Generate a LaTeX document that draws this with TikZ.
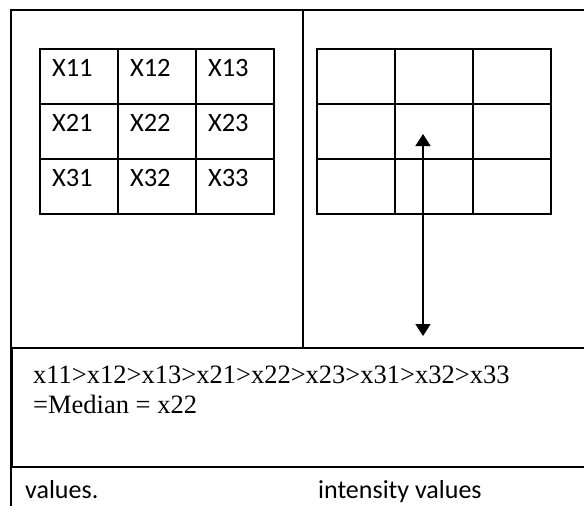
\documentclass[tikz,border=0pt]{standalone}
\usepackage{fontspec}
\setmainfont{Liberation Serif}
\newfontfamily\calibrifont{Carlito}
\usepackage{tikz}
\usetikzlibrary{positioning, arrows.meta}

\begin{document}
\begin{tikzpicture}[
    x=1pt, y=-1pt,
    node distance=0pt,
    cell/.style={rectangle, draw, line width=1.6pt, minimum width=78pt, minimum height=55pt,
        inner sep=0pt, outer sep=0pt, text width=54pt, align=left,
        text height=9pt, text depth=9pt, font=\calibrifont\fontsize{26.5}{30}\selectfont},
    frame/.style={line width=1.6pt},
    arrow/.style={line width=1.5pt,<->,>={Triangle[length=12pt,width=15pt]}},
    caption/.style={anchor=base west, inner sep=0pt, font=\calibrifont\fontsize{26}{30}\selectfont}
]
    \clip (0,0) rectangle (584,506);

    % Frame
    \draw[frame] (11,506) -- (11,10) -- (600,10);
    \draw[frame] (303,10) -- (303,348);

    % Left grid: pixel values
    \node[cell, anchor=north west] (l11) at (40,49) {X11};
    \node[cell, right=of l11] (l12) {X12};
    \node[cell, right=of l12] (l13) {X13};
    \node[cell, below=of l11] (l21) {X21};
    \node[cell, right=of l21] (l22) {X22};
    \node[cell, right=of l22] (l23) {X23};
    \node[cell, below=of l21] (l31) {X31};
    \node[cell, right=of l31] (l32) {X32};
    \node[cell, right=of l32] (l33) {X33};

    % Right grid: output
    \node[cell, anchor=north west] (r11) at (317,49) {};
    \node[cell, right=of r11] (r12) {};
    \node[cell, right=of r12] (r13) {};
    \node[cell, below=of r11] (r21) {};
    \node[cell, right=of r21] (r22) {};
    \node[cell, right=of r22] (r23) {};
    \node[cell, below=of r21] (r31) {};
    \node[cell, right=of r31] (r32) {};
    \node[cell, right=of r32] (r33) {};

    % Captions (partly under the box)
    \node[caption] (capa) at (25,498) {values.};
    \node[caption] (capb) at (318,498) {intensity values};

    % Sorted values box
    \draw[frame, fill=white] (12,348) rectangle (600,467);
    \node[anchor=base west, inner sep=0pt, align=left,
        font=\fontsize{26.5}{30}\selectfont] (median) at (33,413)
        {x11>x12>x13>x21>x22>x23>x31>x32>x33\\=Median = x22};

    % Arrow
    \coordinate (top) at (423,134);
    \coordinate (bottom) at (423,336);
    \draw[arrow] (top) -- (bottom);
\end{tikzpicture}
\end{document}
